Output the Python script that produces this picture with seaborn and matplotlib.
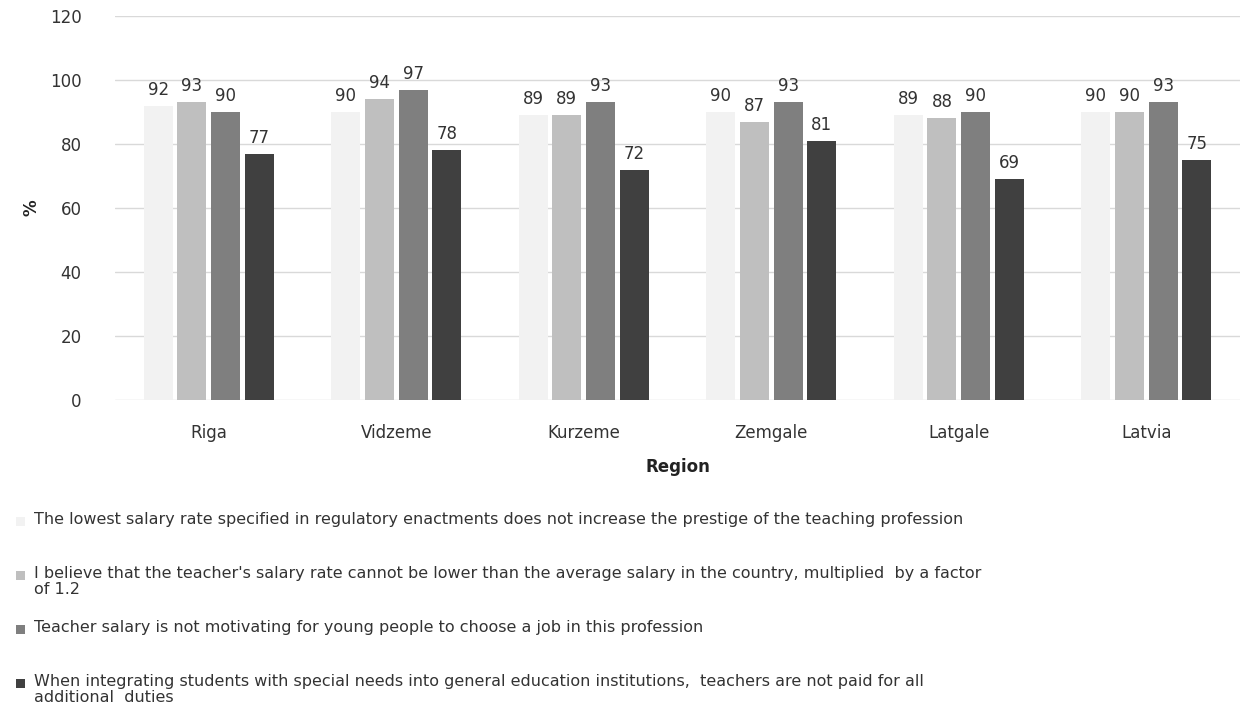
import matplotlib
matplotlib.use("Agg")
import matplotlib.pyplot as plt
import seaborn as sns
import pandas as pd
from matplotlib.patches import Rectangle

regions = ["Riga", "Vidzeme", "Kurzeme", "Zemgale", "Latgale", "Latvia"]
series_names = [
    "The lowest salary rate specified in regulatory enactments does not increase the prestige of the teaching profession",
    "I believe that the teacher's salary rate cannot be lower than the average salary in the country, multiplied  by a factor\nof 1.2",
    "Teacher salary is not motivating for young people to choose a job in this profession",
    "When integrating students with special needs into general education institutions,  teachers are not paid for all\nadditional  duties",
]
s1 = [92, 90, 89, 90, 89, 90]
s2 = [93, 94, 89, 87, 88, 90]
s3 = [90, 97, 93, 93, 90, 93]
s4 = [77, 78, 72, 81, 69, 75]
colors = ["#F2F2F2", "#BFBFBF", "#7F7F7F", "#404040"]
yticks = [0, 20, 40, 60, 80, 100, 120]

rows = []
for name, vals in zip(series_names, [s1, s2, s3, s4]):
    for r, v in zip(regions, vals):
        rows.append({"Region": r, "Series": name, "Value": v})
df = pd.DataFrame(rows)

sns.set_theme(style="white")
plt.rcParams["font.family"] = ["DejaVu Sans"]

fig = plt.figure(figsize=(12.58, 7.11), dpi=100)
ax = fig.add_axes([0.0914, 0.4374, 0.8943, 0.5401])

sns.barplot(data=df, x="Region", y="Value", hue="Series", palette=colors,
            width=0.72, gap=0.14, ax=ax, legend=False, saturation=1,
            edgecolor="none", linewidth=0)

for c in ax.containers:
    ax.bar_label(c, fmt="%d", padding=5, fontsize=12, color="#333333")

ax.set_ylim(0, 120)
ax.set_yticks(yticks)
ax.yaxis.grid(True, color="#D9D9D9", linewidth=1)
ax.set_axisbelow(True)
for s in ax.spines.values():
    s.set_visible(False)
ax.tick_params(axis="both", length=0, labelsize=12, colors="#333333")
ax.tick_params(axis="y", pad=24)
ax.tick_params(axis="x", pad=17)
ax.set_xlabel("Region", fontsize=12, fontweight="bold", labelpad=12, color="#222222")
ax.set_ylabel("%", fontsize=12, fontweight="bold", labelpad=7, color="#222222")

# legend
ys = [521, 575, 629, 683]
for name, col, y in zip(series_names, colors, ys):
    yf = 1 - y / 711
    fig.patches.append(Rectangle((16 / 1258, yf - 4.5 / 711), 9 / 1258, 9 / 711,
                                 transform=fig.transFigure, facecolor=col,
                                 edgecolor="none"))
    fig.text(34 / 1258, yf + 9 / 711, name, fontsize=11.5, va="top", ha="left",
             color="#333333", linespacing=1.1)

fig.savefig("out.png", dpi=100, facecolor="white")
